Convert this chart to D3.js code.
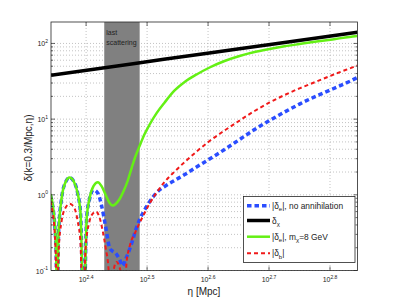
<!DOCTYPE html>
<html><head><meta charset="utf-8">
<script src="https://cdn.jsdelivr.net/npm/d3@7"></script>
<style>body{margin:0;background:#fff} text{font-family:"Liberation Sans",Arial,sans-serif}</style>
</head><body><svg id="c" width="395" height="304"></svg>
<script>
// ---------- data ----------
const etaBlue = [219.7,221.35,223.0,224.3,225.1,226.4,229.0,232.5,236.0,239.6,243.3,246.0,248.9,251.7,254.5,258.4,262.6,266.3,270.4,274.5,277.6,280.8,285.1,288.3,291.5,296.0,299.4,302.8,307.4,313.3,319.3,327.8,337.9,350.9,364.4,381.2,400.4,423.7,448.4,474.5,502.2,531.4,562.3,599.6,637.0,679.0,700];
const valBlue = [0.97,0.72,0.42,0.17,0.02,0.32,0.9,1.48,1.69,1.52,1.05,0.56,0.02,0.49,0.88,1.16,1.05,0.72,0.38,0.2,0.18,0.17,0.14,0.115,0.14,0.19,0.25,0.34,0.47,0.63,0.81,1.07,1.29,1.55,1.85,2.33,2.97,3.97,5.38,7.29,9.58,12.4,15.8,20.2,25.0,31.4,35.5];

const etaBlack = [220,300,400,500,600,700];
const valBlack = [38,54,75,96,118,141];

const etaGreen = [219.7,221.35,223.0,224.3,225.1,226.4,229.0,232.5,236.0,239.6,243.3,246.0,248.9,251.7,254.5,258.4,262.6,266.3,270.4,274.5,277.6,280.8,285.1,289.4,293.8,298.3,302.8,307.4,313.3,319.3,327.8,337.9,350.9,364.4,381.2,400.4,423.7,448.4,474.5,502.2,531.4,562.3,599.6,637.0,679.0,700];
const valGreen = [1.02,0.76,0.44,0.18,0.02,0.32,0.9,1.48,1.69,1.52,1.05,0.56,0.02,0.48,0.9,1.31,1.47,1.3,1.0,0.78,0.72,0.756,0.88,1.12,1.52,2.26,3.26,4.41,6.36,8.49,12.0,16.6,23.9,30.9,38.9,48.1,58.6,68.2,77.0,84.4,91.6,98.2,106,113,122,125];

const etaRed = [219.7,221.35,223.0,224.3,224.9,226.4,229.0,232.5,236.0,239.6,243.3,246.0,247.9,250.7,254.5,258.4,260.8,264.3,267.3,270.4,273.5,275.5,278.1,281.8,285.1,287.8,289.4,292.7,296.0,302.8,307.4,313.3,319.3,327.8,337.9,350.9,364.4,381.2,400.4,423.7,448.4,474.5,502.2,531.4,562.3,599.6,637.0,679.0,700];
const valRed = [0.82,0.58,0.33,0.1,0.02,0.18,0.45,0.68,0.76,0.7,0.45,0.22,0.02,0.2,0.45,0.58,0.6,0.5,0.34,0.2,0.1,0.02,0.09,0.13,0.11,0.06,0.02,0.13,0.206,0.327,0.424,0.575,0.768,1.07,1.48,2.03,2.71,3.73,5.14,7.07,9.58,12.8,16.6,20.8,25.5,31.4,38.3,46.6,51.1];

const xTickExps = [2.4,2.5,2.6,2.7,2.8];
const yTickExps = [-1,0,1,2];
const bandEta = [269,307.5];

// ---------- layout ----------
const svg = d3.select("#c");
const L=51, R=357.5, T=22, B=270.5;
const x = d3.scaleLog().domain([220,700]).range([L,R]);
const y = d3.scaleLog().domain([0.1,192]).range([B,T]);

svg.append("defs").append("clipPath").attr("id","clip")
  .append("rect").attr("x",L).attr("y",T).attr("width",R-L).attr("height",B-T);

// grid
const g = svg.append("g");
const yGrid = [];
for (let e=-1;e<=2;e++) for (let k=1;k<=9;k++){ const v=k*Math.pow(10,e); if(v>=0.1&&v<=192) yGrid.push(v); }
g.selectAll(".hg").data(yGrid).enter().append("line")
  .attr("x1",L).attr("x2",R).attr("y1",d=>y(d)).attr("y2",d=>y(d))
  .attr("stroke","#b4b4b4").attr("stroke-width",0.8).attr("stroke-dasharray","1,2");
g.selectAll(".vg").data(xTickExps).enter().append("line")
  .attr("x1",d=>x(Math.pow(10,d))).attr("x2",d=>x(Math.pow(10,d))).attr("y1",T).attr("y2",B)
  .attr("stroke","#b4b4b4").attr("stroke-width",0.8).attr("stroke-dasharray","1,2");

// band
svg.append("rect").attr("x",x(bandEta[0])).attr("y",T).attr("width",x(bandEta[1])-x(bandEta[0])).attr("height",B-T)
  .attr("fill","#808080");
svg.append("text").attr("x",x(bandEta[0])+2).attr("y",35).attr("font-size",7).attr("fill","#222").text("last");
svg.append("text").attr("x",x(bandEta[0])+2).attr("y",45).attr("font-size",7).attr("fill","#222").text("scattering");

// lines
const line = d3.line().x(d=>x(d[0])).y(d=>y(d[1])).curve(d3.curveMonotoneX);
const lines = svg.append("g").attr("clip-path","url(#clip)");
const series = [
  {eta:etaBlue, val:valBlue, color:"#2a4dff", w:3.5, dash:"4.5,3"},
  {eta:etaBlack, val:valBlack, color:"#000", w:3.5, dash:null},
  {eta:etaGreen, val:valGreen, color:"#64f014", w:2.5, dash:null},
  {eta:etaRed, val:valRed, color:"#f01a1a", w:2, dash:"4,3"}
];
series.forEach(s=>{
  lines.append("path").datum(s.eta.map((e,i)=>[e,s.val[i]]))
    .attr("d",line).attr("fill","none").attr("stroke",s.color).attr("stroke-width",s.w)
    .attr("stroke-dasharray",s.dash);
});

// frame
svg.append("rect").attr("x",L).attr("y",T).attr("width",R-L).attr("height",B-T)
  .attr("fill","none").attr("stroke","#262626").attr("stroke-width",0.8);

// ticks
const tk = svg.append("g").attr("stroke","#262626").attr("stroke-width",0.7);
yGrid.forEach(v=>{
  const major = Math.abs(Math.log10(v)-Math.round(Math.log10(v)))<1e-9;
  const len = major?4:2;
  tk.append("line").attr("x1",L).attr("x2",L+len).attr("y1",y(v)).attr("y2",y(v));
  tk.append("line").attr("x1",R-len).attr("x2",R).attr("y1",y(v)).attr("y2",y(v));
});
xTickExps.forEach(e=>{
  const xx = x(Math.pow(10,e));
  tk.append("line").attr("x1",xx).attr("x2",xx).attr("y1",B).attr("y2",B-4);
  tk.append("line").attr("x1",xx).attr("x2",xx).attr("y1",T).attr("y2",T+4);
});

// tick labels
xTickExps.forEach(e=>{
  const t = svg.append("text").attr("x",x(Math.pow(10,e))).attr("y",282).attr("font-size",7)
    .attr("text-anchor","middle").attr("fill","#222");
  t.append("tspan").text("10");
  t.append("tspan").attr("dy",-3.5).attr("font-size",5).text(String(e));
});
yTickExps.forEach(e=>{
  const t = svg.append("text").attr("x",48).attr("y",y(Math.pow(10,e))+3).attr("font-size",7)
    .attr("text-anchor","end").attr("fill","#222");
  t.append("tspan").text("10");
  t.append("tspan").attr("dy",-3.5).attr("font-size",5).text(String(e));
});

// axis labels
svg.append("text").attr("x",204).attr("y",295).attr("font-size",10).attr("text-anchor","middle").attr("fill","#222").text("η [Mpc]");
svg.append("text").attr("transform","translate(32,148) rotate(-90)").attr("font-size",10).attr("text-anchor","middle").attr("fill","#222").text("δ(k=0.3/Mpc,η)");

// legend
const lg = svg.append("g");
lg.append("rect").attr("x",243.5).attr("y",196.5).attr("width",111.5).attr("height",66).attr("fill","#fff").attr("stroke","#262626").attr("stroke-width",0.8);
const rows = [205.7,220.5,236.7,253.3];
const legendParts = [
  [["|δ",0],["e",1],["|, no annihilation",0]],
  [["δ",0],["χ",1]],
  [["|δ",0],["e",1],["|,  m",0],["χ",1],["=8 GeV",0]],
  [["|δ",0],["b",1],["|",0]]
];
series.forEach((s,i)=>{
  lg.append("line").attr("x1",247).attr("x2",270).attr("y1",rows[i]).attr("y2",rows[i])
    .attr("stroke",s.color).attr("stroke-width",s.w).attr("stroke-dasharray",s.dash);
  const t = lg.append("text").attr("x",272).attr("y",rows[i]+3).attr("font-size",8.4).attr("fill","#222");
  let sub=0;
  legendParts[i].forEach(p=>{
    const ts = t.append("tspan").text(p[0]);
    if(p[1]&&!sub){ ts.attr("dy",2.5).attr("font-size",6); sub=1; }
    else if(!p[1]&&sub){ ts.attr("dy",-2.5); sub=0; }
  });
});
</script></body></html>
